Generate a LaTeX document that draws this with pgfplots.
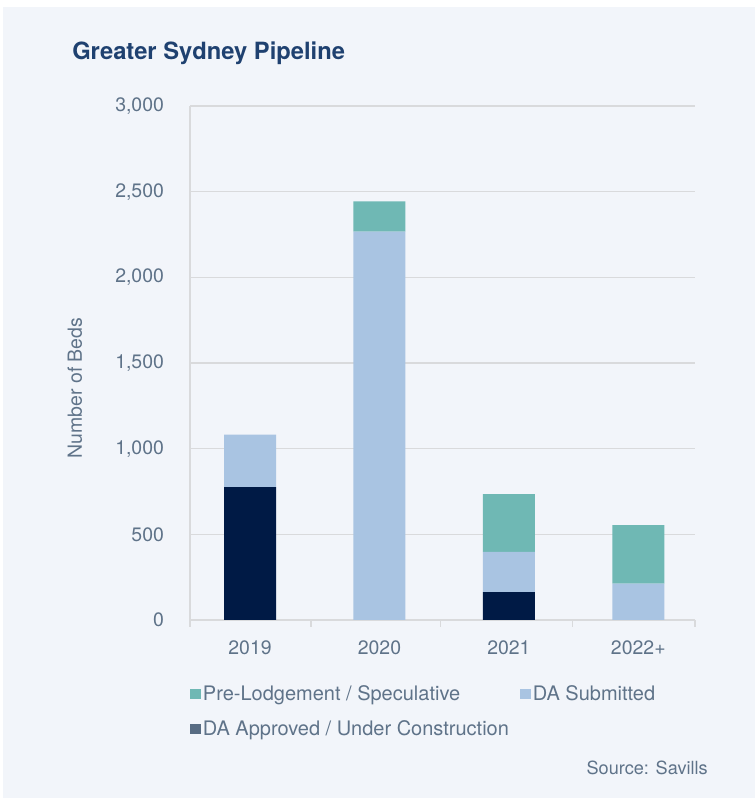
\documentclass[border=0pt]{standalone}
\usepackage{fontspec}
\setmainfont{TeX Gyre Heros}
\usepackage{pgfplots}
\pgfplotsset{compat=1.18}
\definecolor{navy}{HTML}{001A45}
\definecolor{lblue}{HTML}{A9C4E2}
\definecolor{tealc}{HTML}{6FB8B4}
\definecolor{bgc}{HTML}{F2F5FA}
\definecolor{txtc}{HTML}{5F7389}
\definecolor{titlec}{HTML}{1F4170}
\definecolor{gridc}{HTML}{D9DADC}
\definecolor{legdark}{HTML}{586C83}
\begin{document}
\begin{tikzpicture}
\useasboundingbox (0,0) rectangle (566.25pt,598.5pt);
\fill[white] (0,0) rectangle (566.25pt,598.5pt);
\fill[bgc] (2.25pt,0) rectangle (566.25pt,593.25pt);
\node[anchor=base west, font=\fontsize{17.8}{21}\selectfont\bfseries, text=titlec, inner sep=0pt] at (54pt,554pt) {Greater Sydney Pipeline};
\begin{axis}[
  at={(142.5pt,133.5pt)}, anchor=south west,
  scale only axis, width=378.75pt, height=385.5pt,
  xmin=-0.464, xmax=3.438, ymin=0, ymax=3000,
  ybar stacked, bar width=39pt,
  axis lines*=left,
  axis line style={draw=gridc, line width=1.1pt},
  ymajorgrids, grid style={draw=gridc, line width=0.8pt},
  ytick={0,500,...,3000},
  xtick={0,1,2,3}, xticklabels={2019,2020,2021,2022+},
  minor xtick={-0.464,0.47,1.47,2.49,3.438},
  major tick length=0pt, minor tick length=5.25pt, tick align=outside,
  minor tick style={draw=gridc, line width=1.1pt},
  /pgf/number format/.cd, 1000 sep={,}, assume math mode=true, /pgfplots/.cd,
  ticklabel style={font=\fontsize{14.6}{17}\selectfont, text=txtc},
  yticklabel style={xshift=-16pt},
  xticklabel style={yshift=-12pt},
  legend columns=2, legend cell align=left,
  legend style={at={(axis description cs:0,-0.123)}, anchor=north west, draw=none, fill=none,
    font=\fontsize{15}{17.5}\selectfont, text=txtc, inner sep=0pt, row sep=10.5pt,
    nodes={inner sep=1.5pt},
    /tikz/every even column/.append style={column sep=7pt}},
  legend image code/.code={\fill (0pt,-4pt) rectangle (8pt,4pt);},
]
\addlegendimage{fill=tealc, draw=none}
\addlegendentry{Pre-Lodgement / Speculative}
\addlegendimage{fill=lblue, draw=none}
\addlegendentry{DA Submitted}
\addlegendimage{fill=legdark, draw=none}
\addlegendentry{DA Approved / Under Construction}
\addplot[fill=navy, draw=none, forget plot] coordinates {(0,775) (1,0) (2,163) (3,0)};
\addplot[fill=lblue, draw=none, forget plot] coordinates {(0,307) (1,2267) (2,234) (3,212)};
\addplot[fill=tealc, draw=none, forget plot] coordinates {(0,0) (1,177) (2,338) (3,341)};
\end{axis}
\node[rotate=90, font=\fontsize{14.6}{17}\selectfont, text=txtc] at (56.25pt,307.5pt) {Number of Beds};
\node[anchor=east, font=\fontsize{13.6}{16}\selectfont, text=txtc, inner sep=0pt] at (531pt,22.5pt) {Source: Savills};
\end{tikzpicture}
\end{document}
